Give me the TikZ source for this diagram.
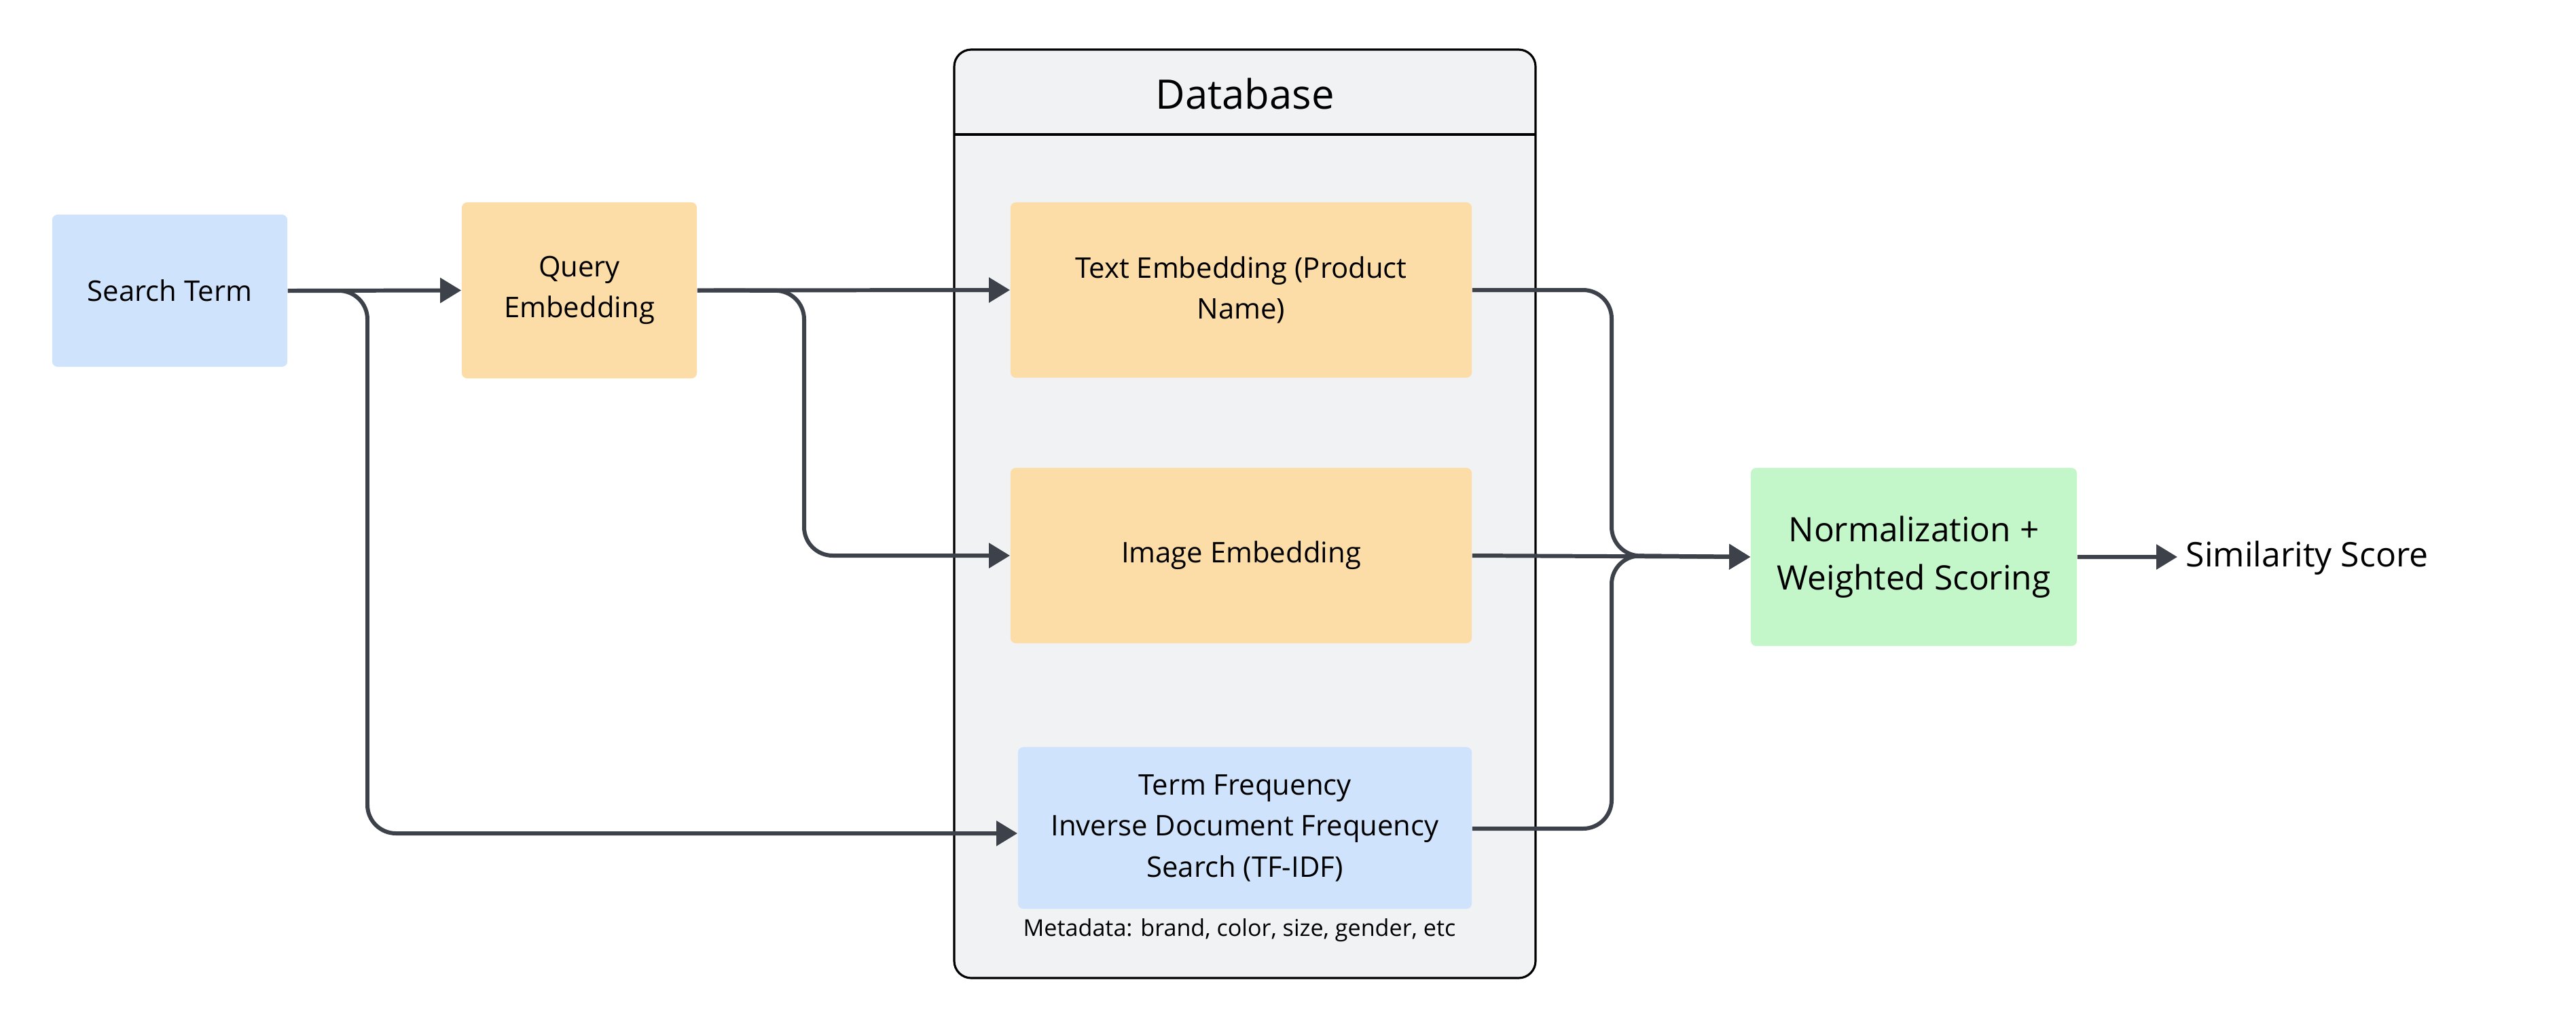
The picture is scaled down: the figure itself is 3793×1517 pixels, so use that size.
\documentclass[tikz,border=0pt]{standalone}
\usepackage{fontspec}
\setmainfont{Open Sans}
\usetikzlibrary{arrows.meta,calc}
\definecolor{bluebox}{HTML}{CFE3FC}
\definecolor{orangebox}{HTML}{FDDDA7}
\definecolor{greenbox}{HTML}{C3F6C9}
\definecolor{dbgray}{HTML}{F1F2F4}
\definecolor{connc}{HTML}{3D424A}
\tikzset{
  boxbase/.style={rectangle, rounded corners=0.08cm, inner sep=0pt, align=center,
    font=\fontsize{11.9}{17.2}\selectfont},
  bluestyle/.style={boxbase, fill=bluebox},
  orangestyle/.style={boxbase, fill=orangebox},
  greenstyle/.style={boxbase, fill=greenbox, font=\fontsize{14.1}{20.2}\selectfont},
  conn/.style={draw=connc, line width=1.7pt, rounded corners=0.42cm,
    -{Triangle[length=0.31cm,width=0.36cm]}},
}
\begin{document}
\begin{tikzpicture}[x=0.01cm,y=-0.01cm]
\useasboundingbox (0,0) rectangle (3793,1517);
% Database container
\coordinate (dbtl) at (1405,73);
\coordinate (dbbr) at (2261,1440);
\coordinate (dbhl) at (1405,198);
\coordinate (dbhr) at (2261,198);
\draw[fill=dbgray, line width=0.9pt, rounded corners=0.25cm] (dbtl) rectangle (dbbr);
\draw[line width=0.9pt] (dbhl) -- (dbhr);
\node[font=\fontsize{17}{20}\selectfont] (dbtitle) at (1833,138) {Database};

% Nodes
\node[bluestyle, minimum width=3.46cm, minimum height=2.24cm] (search) at (250,428) {Search Term};
\node[orangestyle, minimum width=3.46cm, minimum height=2.59cm] (query) at (853,427.5) {Query\\Embedding};
\node[orangestyle, minimum width=6.79cm, minimum height=2.58cm] (textemb) at (1827.5,427) {Text Embedding (Product\\Name)};
\node[orangestyle, minimum width=6.79cm, minimum height=2.58cm] (imgemb) at (1827.5,818) {Image Embedding};
\node[bluestyle, minimum width=6.68cm, minimum height=2.38cm] (tfidf) at (1833,1219) {Term Frequency\\Inverse Document Frequency\\Search (TF-IDF)};
\node[font=\fontsize{9.7}{11}\selectfont] (meta) at (1825,1370) {Metadata: brand, color, size, gender, etc};
\node[greenstyle, minimum width=4.80cm, minimum height=2.62cm] (norm) at (2818,820) {Normalization +\\Weighted Scoring};
\node[anchor=west, inner sep=0pt, font=\fontsize{14.2}{17}\selectfont] (sim) at (3218,822) {Similarity Score};

% Waypoints
\coordinate (s1) at (541,428);
\coordinate (s2) at (541,1227);
\coordinate (q1) at (1184,428);
\coordinate (q2) at (1184,818);
\coordinate (m1) at (2373,427);
\coordinate (m2) at (2373,818);
\coordinate (m3) at (2373,1220);

% Connectors
\draw[conn] (search.east) -- (query.west);
\draw[conn] (search.east) -- (s1) -- (s2) -- ([yshift=-0.08cm]tfidf.west);
\draw[conn] (query.east) -- (textemb.west);
\draw[conn] (query.east) -- (q1) -- (q2) -- (imgemb.west);
\draw[conn] (textemb.east) -- (m1) -- (m2) -- (norm.west);
\draw[conn] (imgemb.east) -- (norm.west);
\draw[conn] ([yshift=-0.01cm]tfidf.east) -- (m3) -- (m2) -- (norm.west);
\draw[conn] (norm.east) -- ([xshift=-0.12cm,yshift=0.02cm]sim.west);
\end{tikzpicture}
\end{document}
